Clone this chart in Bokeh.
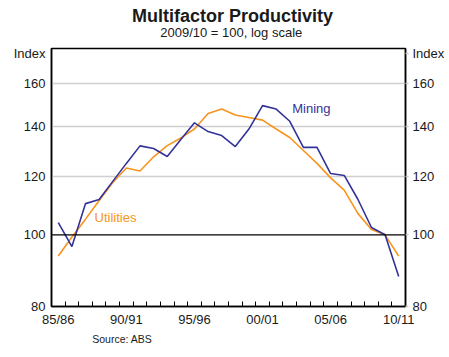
from bokeh.plotting import figure
from bokeh.layouts import column
from bokeh.models import Range1d, FixedTicker, LogAxis, Label, Span, NumeralTickFormatter
from bokeh.embed import file_html
from bokeh.resources import INLINE

years = ["85/86", "86/87", "87/88", "88/89", "89/90", "90/91", "91/92", "92/93",
         "93/94", "94/95", "95/96", "96/97", "97/98", "98/99", "99/00", "00/01",
         "01/02", "02/03", "03/04", "04/05", "05/06", "06/07", "07/08", "08/09",
         "09/10", "10/11"]
mining = [103.9, 96.4, 110.2, 111.6, 118.1, 124.9, 131.9, 130.8, 127.6, 134.5,
          141.7, 137.9, 136.2, 131.6, 139.0, 149.5, 147.9, 142.4, 131.3, 131.3,
          121.0, 120.3, 111.7, 102.3, 100.0, 87.8]
utilities = [93.6, 99.3, 105.0, 111.3, 117.7, 123.1, 122.0, 127.5, 132.0, 135.2,
             139.0, 145.9, 147.9, 145.2, 144.1, 142.9, 139.0, 135.4, 130.0, 124.9,
             119.4, 114.9, 106.9, 101.7, 100.0, 93.6]
labelled_years = ["85/86", "90/91", "95/96", "00/01", "05/06", "10/11"]
y_ticks = [80, 100, 120, 140, 160]
grid_ticks = [120, 140, 160]
unit_tick = 176  # position of the "Index" unit label on both value axes

FONT = "Liberation Sans"
TXT = "#1a1a1a"
NAVY = "#333399"
ORANGE = "#f7941d"
W = 449

x = list(range(len(years)))
YMIN, YMAX = 80, 178.6
XMIN, XMAX = -0.5, len(years) - 0.5


def text_panel(height):
    f = figure(width=W, height=height, output_backend="svg", toolbar_location=None,
               x_range=Range1d(0, W), y_range=Range1d(height, 0),
               x_axis_location=None, y_axis_location=None,
               min_border=0, min_border_left=0, min_border_right=0,
               min_border_top=0, min_border_bottom=0)
    f.outline_line_color = None
    f.xgrid.visible = False
    f.ygrid.visible = False
    f.background_fill_color = "white"
    f.border_fill_color = "white"
    return f


def lab(fig, text, xx, yy, size="13px", color=TXT, align="left", style="normal"):
    fig.add_layout(Label(x=xx, y=yy, text=text, text_font=FONT, text_font_size=size,
                         text_color=color, text_align=align, text_baseline="alphabetic",
                         text_font_style=style))


# header
header = text_panel(44)
lab(header, "Multifactor Productivity", 229.5, 15, size="18px", align="center", style="bold")
lab(header, "2009/10 = 100, log scale", 228, 32, size="13px", align="center")

# main chart
p = figure(width=W, height=286, output_backend="svg", toolbar_location=None,
           y_axis_type="log", x_range=Range1d(XMIN, XMAX), y_range=Range1d(YMIN, YMAX),
           min_border_left=51, min_border_right=44, min_border_top=4, min_border_bottom=24)
p.outline_line_color = "black"
p.outline_line_width = 1.5
p.background_fill_color = "white"
p.border_fill_color = "white"

p.xgrid.visible = False
p.ygrid.ticker = FixedTicker(ticks=grid_ticks)
p.ygrid.grid_line_color = "#d0d0d0"
p.ygrid.grid_line_width = 1.5
p.add_layout(Span(location=100, dimension="width", line_color="black", line_width=1.2))

xa = p.xaxis[0]
xa.ticker = FixedTicker(ticks=[years.index(y) for y in labelled_years],
                        minor_ticks=[i - 0.5 for i in range(len(years) + 1)])
xa.major_label_overrides = {years.index(y): y for y in labelled_years}
xa.major_tick_in = 0
xa.major_tick_out = 0
xa.minor_tick_in = 5
xa.minor_tick_out = 0
xa.minor_tick_line_color = "black"
xa.minor_tick_line_width = 1
xa.axis_line_color = "black"
xa.axis_line_width = 1.5
xa.major_label_standoff = 5
xa.major_label_text_font = FONT
xa.major_label_text_font_size = "13px"
xa.major_label_text_color = TXT

ya = p.yaxis[0]
ra = LogAxis()
p.add_layout(ra, "right")
for ax in (ya, ra):
    ax.ticker = FixedTicker(ticks=y_ticks + [unit_tick])
    ax.formatter = NumeralTickFormatter(format="0")
    ax.major_label_overrides = {unit_tick: "Index"}
    ax.minor_tick_in = 0
    ax.minor_tick_out = 0
    ax.major_tick_in = 0
    ax.axis_line_color = "black"
    ax.axis_line_width = 1.5
    ax.major_label_text_font = FONT
    ax.major_label_text_font_size = "13px"
    ax.major_label_text_color = TXT
ya.major_tick_out = 0
ya.major_label_standoff = 6
ra.major_tick_out = 3
ra.major_tick_line_color = "#c8c8c8"
ra.major_tick_line_width = 1.5
ra.major_label_standoff = 4

p.line(x, utilities, line_color=ORANGE, line_width=1.6)
p.line(x, mining, line_color=NAVY, line_width=1.6)

lab(p, "Mining", 17.18, 148.0, color=NAVY)
lab(p, "Utilities", 2.66, 105.6, color=ORANGE)

# footer
footer = text_panel(27)
lab(footer, "Source: ABS", 51.7, 8.5, size="10.5px")

layout = column(header, p, footer, spacing=0)
open("out.html", "w").write(file_html(layout, INLINE))
